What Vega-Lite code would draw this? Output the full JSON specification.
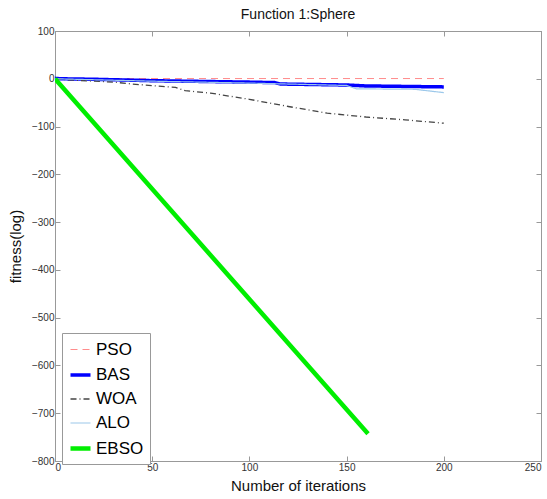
{
  "$schema": "https://vega.github.io/schema/vega-lite/v6.json",
  "width": 486,
  "height": 430,
  "autosize": {"type": "none"},
  "padding": {"left": 55, "top": 31, "right": 6, "bottom": 38},
  "background": "white",
  "title": {"text": "Function 1:Sphere", "fontSize": 14, "font": "Liberation Sans", "fontWeight": "normal", "color": "#111", "offset": 4, "anchor": "middle"},
  "config": {
    "view": {"stroke": "#999", "strokeWidth": 1},
    "axis": {"grid": false, "domainColor": "#999", "tickColor": "#999", "labelColor": "#333", "labelFont": "Liberation Sans", "labelFontSize": 10, "titleFont": "Liberation Sans", "titleFontSize": 15, "titleFontWeight": "normal", "titleColor": "#111"}
  },
  "data": {"values": [
    {"s": "PSO", "x": 0, "y": 0.5}, {"s": "PSO", "x": 200, "y": 0.5},
    {"s": "BAS", "x": 0, "y": 1}, {"s": "BAS", "x": 3, "y": 0}, {"s": "BAS", "x": 20, "y": -1}, {"s": "BAS", "x": 50, "y": -4}, {"s": "BAS", "x": 100, "y": -7}, {"s": "BAS", "x": 113, "y": -8}, {"s": "BAS", "x": 116, "y": -11}, {"s": "BAS", "x": 150, "y": -13}, {"s": "BAS", "x": 160, "y": -15}, {"s": "BAS", "x": 200, "y": -17},
    {"s": "WOA", "x": 0, "y": 0}, {"s": "WOA", "x": 10, "y": -3}, {"s": "WOA", "x": 30, "y": -7}, {"s": "WOA", "x": 40, "y": -11}, {"s": "WOA", "x": 55, "y": -16}, {"s": "WOA", "x": 62, "y": -18}, {"s": "WOA", "x": 67, "y": -25}, {"s": "WOA", "x": 80, "y": -30}, {"s": "WOA", "x": 100, "y": -43}, {"s": "WOA", "x": 120, "y": -58}, {"s": "WOA", "x": 140, "y": -72}, {"s": "WOA", "x": 160, "y": -80}, {"s": "WOA", "x": 180, "y": -86}, {"s": "WOA", "x": 200, "y": -93},
    {"s": "ALO", "x": 0, "y": 0}, {"s": "ALO", "x": 50, "y": -5}, {"s": "ALO", "x": 100, "y": -9}, {"s": "ALO", "x": 150, "y": -14}, {"s": "ALO", "x": 155, "y": -21}, {"s": "ALO", "x": 185, "y": -22}, {"s": "ALO", "x": 200, "y": -29},
    {"s": "EBSO", "x": 0, "y": 0}, {"s": "EBSO", "x": 161, "y": -743}
  ]},
  "layer": [
    {
      "mark": {"type": "line", "clip": true},
      "encoding": {
        "x": {"field": "x", "type": "quantitative", "scale": {"domain": [0, 250], "nice": false}, "axis": {"values": [0, 50, 100, 150, 200, 250], "title": "Number of iterations", "titlePadding": 6, "tickSize": -5, "labelPadding": 6}},
        "y": {"field": "y", "type": "quantitative", "scale": {"domain": [-800, 100], "nice": false, "zero": false}, "axis": {"values": [100, 0, -100, -200, -300, -400, -500, -600, -700, -800], "title": "fitness(log)", "titlePadding": 8, "tickSize": -5, "labelPadding": 6}},
        "detail": {"field": "s"},
        "color": {"field": "s", "type": "nominal", "scale": {"domain": ["PSO", "BAS", "WOA", "ALO", "EBSO"], "range": ["#ff8c8c", "#0000ff", "#444444", "#9cc8ea", "#00ee00"]},
          "legend": {"orient": "none", "legendX": 7, "legendY": 302, "title": null, "labelFontSize": 17, "labelFont": "Liberation Sans", "labelColor": "#000", "symbolType": "stroke", "symbolSize": 400, "strokeColor": "#999", "fillColor": "white", "padding": 6, "rowPadding": 5, "labelOffset": 3}},
        "strokeDash": {"field": "s", "type": "nominal", "scale": {"domain": ["PSO", "BAS", "WOA", "ALO", "EBSO"], "range": [[7, 5], [1, 0], [6, 3, 1, 3], [1, 0], [1, 0]]}},
        "strokeWidth": {"field": "s", "type": "nominal", "scale": {"type": "ordinal", "domain": ["PSO", "BAS", "WOA", "ALO", "EBSO"], "range": [1, 3.5, 1.3, 1.2, 4.5]}}
      }
    },
    {
      "mark": {"type": "line", "opacity": 0},
      "encoding": {
        "x": {"field": "x", "type": "quantitative", "axis": {"orient": "top", "values": [0, 50, 100, 150, 200, 250], "labels": false, "title": null, "tickSize": -5}},
        "y": {"field": "y", "type": "quantitative", "axis": {"orient": "right", "values": [100, 0, -100, -200, -300, -400, -500, -600, -700, -800], "labels": false, "title": null, "tickSize": -5}}
      }
    }
  ],
  "resolve": {"axis": {"x": "independent", "y": "independent"}}
}
